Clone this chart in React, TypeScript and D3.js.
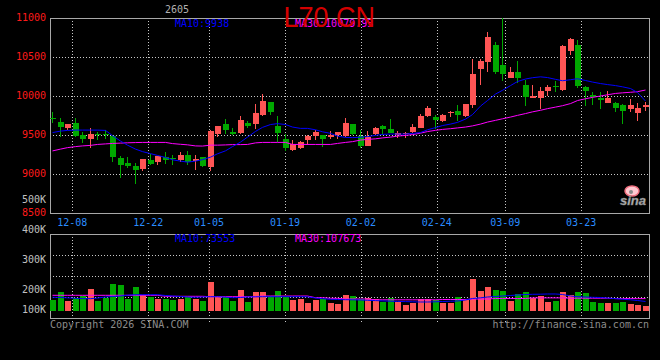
import React, { useEffect, useRef } from 'react';
import * as d3 from 'd3';

const dates = [
  '12-03', '12-04', '12-05', '12-08', '12-09', '12-10', '12-11', '12-12', '12-15', '12-16',
  '12-17', '12-18', '12-19', '12-22', '12-23', '12-24', '12-25', '12-26', '12-29', '12-30',
  '12-31', '01-05', '01-06', '01-07', '01-08', '01-09', '01-12', '01-13', '01-14', '01-15',
  '01-16', '01-19', '01-20', '01-21', '01-22', '01-23', '01-26', '01-27', '01-28', '01-29',
  '01-30', '02-02', '02-03', '02-04', '02-05', '02-06', '02-09', '02-10', '02-11', '02-12',
  '02-13', '02-24', '02-25', '02-26', '02-27', '03-02', '03-03', '03-04', '03-05', '03-06',
  '03-09', '03-10', '03-11', '03-12', '03-13', '03-16', '03-17', '03-18', '03-19', '03-20',
  '03-23', '03-24', '03-25', '03-26', '03-27', '03-30', '03-31', '04-01', '04-02', '04-03'
];

const opens = [
  9720, 9673, 9588, 9660, 9502, 9450, 9515, 9520, 9489, 9203,
  9138, 9104, 9070, 9181, 9155, 9215, 9204, 9181, 9241, 9172,
  9215, 9087, 9511, 9643, 9544, 9524, 9660, 9639, 9762, 9922,
  9617, 9450, 9313, 9339, 9434, 9489, 9506, 9480, 9498, 9493,
  9643, 9489, 9360, 9515, 9622, 9579, 9502, 9519, 9540, 9596,
  9750, 9733, 9686, 9787, 9810, 9746, 9887, 10349, 10443, 10655,
  10400, 10240, 10310, 10140, 9975, 9980, 10067, 10130, 10080, 10584,
  10657, 10114, 10016, 9980, 9913, 9917, 9887, 9836, 9788, 9861
];
const highs = [
  9800, 9724, 9650, 9716, 9544, 9592, 9540, 9566, 9500, 9232,
  9215, 9146, 9194, 9258, 9232, 9284, 9245, 9284, 9297, 9241,
  9224, 9565, 9620, 9703, 9592, 9750, 9686, 9900, 10028, 9925,
  9746, 9515, 9434, 9425, 9502, 9566, 9506, 9549, 9540, 9720,
  9650, 9566, 9557, 9600, 9630, 9703, 9553, 9540, 9650, 9772,
  9874, 9758, 9772, 9810, 9887, 9905, 10478, 10474, 10828, 10690,
  11000, 10380, 10450, 10208, 10143, 10118, 10143, 10190, 10660, 10751,
  10720, 10135, 10050, 10050, 10067, 9930, 9895, 9964, 9913, 9922
];
const lows = [
  9652, 9472, 9566, 9480, 9403, 9331, 9438, 9446, 9159, 8955,
  9074, 8880, 9045, 9113, 9120, 9130, 9120, 9159, 9113, 9053,
  9090, 9045, 9472, 9515, 9506, 9515, 9588, 9583, 9750, 9762,
  9412, 9300, 9300, 9326, 9370, 9438, 9353, 9454, 9446, 9480,
  9500, 9331, 9360, 9502, 9502, 9527, 9467, 9460, 9535, 9596,
  9733, 9579, 9672, 9737, 9686, 9730, 9852, 10144, 10315, 10285,
  10195, 10230, 10170, 9870, 9975, 9835, 10003, 10050, 10070, 10529,
  10110, 9878, 9886, 9835, 9913, 9800, 9643, 9793, 9686, 9814
];
const closes = [
  9712, 9600, 9639, 9489, 9450, 9515, 9502, 9515, 9223, 9117,
  9104, 9052, 9194, 9130, 9232, 9181, 9194, 9241, 9155, 9190,
  9104, 9557, 9617, 9566, 9519, 9694, 9617, 9780, 9934, 9801,
  9531, 9339, 9382, 9416, 9489, 9536, 9454, 9506, 9536, 9652,
  9515, 9360, 9480, 9596, 9583, 9527, 9524, 9524, 9604, 9746,
  9848, 9694, 9758, 9797, 9758, 9900, 10285, 10452, 10764, 10310,
  10285, 10310, 10235, 9985, 10003, 10067, 10116, 10125, 10640, 10734,
  10135, 10067, 9990, 9947, 9977, 9852, 9814, 9883, 9848, 9887
];

const ma10 = [
  9534, 9553, 9562, 9566, 9566, 9566, 9566, 9562, 9495, 9425,
  9373, 9322, 9290, 9264, 9241, 9215, 9185, 9168, 9155, 9168,
  9187, 9219, 9262, 9300, 9354, 9412, 9476, 9549, 9601, 9637,
  9649, 9637, 9605, 9588, 9588, 9570, 9544, 9524, 9489, 9472,
  9470, 9474, 9483, 9498, 9511, 9515, 9515, 9515, 9524, 9534,
  9570, 9598, 9624, 9643, 9665, 9707, 9765, 9874, 9945, 10028,
  10076, 10137, 10189, 10221, 10238, 10249, 10240, 10217, 10199, 10212,
  10225, 10202, 10182, 10163, 10150, 10137, 10121, 10099, 10048, 9938
];
const ma30 = [
  9299, 9322, 9341, 9354, 9363, 9370, 9382, 9389, 9395, 9399,
  9403, 9406, 9408, 9408, 9408, 9408, 9393, 9384, 9377, 9363,
  9361, 9373, 9373, 9376, 9380, 9380, 9382, 9402, 9408, 9408,
  9408, 9408, 9382, 9382, 9382, 9382, 9382, 9382, 9395, 9408,
  9418, 9438, 9447, 9454, 9466, 9476, 9489, 9498, 9508, 9527,
  9547, 9563, 9575, 9584, 9594, 9605, 9620, 9643, 9669, 9691,
  9711, 9733, 9755, 9778, 9800, 9820, 9841, 9861, 9879, 9906,
  9945, 9968, 9986, 10003, 10019, 10036, 10044, 10051, 10059, 10080
];

const volumes = [
  166700, 193300, 163300, 173300, 180000, 203300, 163300, 173300, 220000, 216700,
  170000, 210000, 183300, 176700, 170000, 170000, 166700, 170000, 176700, 170000,
  163300, 226700, 180000, 176700, 163300, 200000, 160000, 193300, 193300, 180000,
  196700, 176700, 166700, 170000, 156700, 166700, 170000, 156700, 153300, 183300,
  180000, 170000, 173300, 170000, 160000, 173300, 160000, 150000, 156700, 170000,
  170000, 166700, 156700, 156700, 176700, 170000, 236700, 196700, 210000, 200000,
  196700, 163300, 186700, 193300, 173300, 180000, 160000, 163300, 193300, 183300,
  193300, 190000, 160000, 156700, 156700, 156700, 160000, 153300, 150000, 146700
];
const volMa10 = [
  175700, 175000, 174000, 172300, 171300, 171000, 173300, 176700, 178300, 180000,
  182700, 184300, 184300, 184300, 184300, 181700, 180000, 178300, 176700, 175700,
  176700, 177700, 177700, 176000, 174300, 175000, 176700, 177300, 177700, 177700,
  177700, 177700, 177700, 177700, 177300, 173300, 171000, 169000, 168300, 167700,
  167300, 166700, 165700, 164700, 163700, 162700, 162000, 161300, 160700, 160000,
  160000, 160700, 161700, 162700, 163300, 166700, 171700, 174000, 176700, 178300,
  180000, 181700, 183300, 185000, 185700, 186000, 186700, 186700, 185000, 180000,
  177700, 176700, 175700, 175000, 173300, 171300, 169300, 167300, 165000, 161700
];
const volMa30 = [
  182300, 182300, 182300, 182300, 182300, 182300, 182300, 182300, 182300, 182300,
  182300, 182300, 182300, 182300, 182300, 179000, 179000, 179000, 179000, 179000,
  179000, 177700, 177700, 177700, 177700, 177700, 177700, 177700, 180000, 180000,
  180000, 180000, 180000, 180000, 180000, 174300, 174300, 172300, 172300, 170000,
  170000, 170000, 170000, 167300, 167300, 167300, 167300, 167300, 167300, 167300,
  167300, 167300, 168300, 168300, 168300, 168300, 170000, 170000, 170000, 171700,
  171700, 171700, 171700, 171700, 173700, 173700, 173700, 173700, 173700, 172700,
  172700, 172700, 172700, 172700, 172700, 171300, 171300, 171300, 171300, 171300
];

const priceTicks = [11000, 10500, 10000, 9500, 9000, 8500];
const volTicks = [500000, 400000, 300000, 200000, 100000];
const dateTicks = ['12-08', '12-22', '01-05', '01-19', '02-02', '02-24', '03-09', '03-23'];

const KLineChart = () => {
  const svgRef = useRef<SVGSVGElement>(null);

  useEffect(() => {
    const width = 660;
    const height = 360;
    const left = 50;
    const right = 650;
    const volTop = 234;
    const volBottom = 318;
    const volBase = 311;
    const red = '#ff5555';
    const green = '#00a800';
    const gridColor = '#c8c8c8';
    const borderColor = '#a8a8a8';
    const mono = '"DejaVu Sans Mono", monospace';

    const svg = d3.select(svgRef.current)
      .attr('width', width)
      .attr('height', height);
    svg.selectAll('*').remove();

    svg.append('rect')
      .attr('width', width)
      .attr('height', height)
      .attr('fill', '#000');

    const x = d3.scaleBand<number>()
      .domain(d3.range(dates.length))
      .range([left, right]);
    // sina puts its date grid on n-1 steps, so it drifts from the candles a bit
    const xGrid = d3.scaleLinear()
      .domain([0, dates.length - 1])
      .range([left, right]);
    const y = d3.scaleLinear()
      .domain([8500, 11000])
      .range([213.2, 18.3]);
    const yVol = d3.scaleLinear()
      .domain([0, 500000])
      .range([350, 200]);

    const px = (v: number) => Math.floor(v) + 0.5;
    const slot = (i: number) => Math.ceil(x(i) as number);

    // grid
    const grid = svg.append('g').attr('shape-rendering', 'crispEdges');
    const innerTicks = priceTicks.filter(t => t !== 11000 && t !== 8500);
    grid.selectAll('.hgrid')
      .data(innerTicks)
      .enter()
      .append('line')
      .attr('x1', left)
      .attr('x2', right - 1)
      .attr('y1', d => px(y(d)))
      .attr('y2', d => px(y(d)))
      .attr('stroke', gridColor)
      .attr('stroke-dasharray', '1,2');

    grid.selectAll('.vhgrid')
      .data(d3.range(1, 4))
      .enter()
      .append('line')
      .attr('x1', left)
      .attr('x2', right - 1)
      .attr('y1', k => px(volTop + k * (volBottom - volTop) / 4))
      .attr('y2', k => px(volTop + k * (volBottom - volTop) / 4))
      .attr('stroke', gridColor)
      .attr('stroke-dasharray', '1,2');

    const tickIdx = dateTicks.map(d => dates.indexOf(d));
    grid.selectAll('.vgrid')
      .data(tickIdx)
      .enter()
      .append('line')
      .attr('x1', i => px(xGrid(i)))
      .attr('x2', i => px(xGrid(i)))
      .attr('y1', 18)
      .attr('y2', 213)
      .attr('stroke', gridColor)
      .attr('stroke-dasharray', '1,2');
    grid.selectAll('.vgrid2')
      .data(tickIdx)
      .enter()
      .append('line')
      .attr('x1', i => px(xGrid(i)))
      .attr('x2', i => px(xGrid(i)))
      .attr('y1', volTop)
      .attr('y2', volBottom + 4)
      .attr('stroke', gridColor)
      .attr('stroke-dasharray', '1,2');

    // panel borders
    grid.append('rect')
      .attr('x', left + 0.5)
      .attr('y', 18.5)
      .attr('width', right - left - 1)
      .attr('height', 195)
      .attr('fill', 'none')
      .attr('stroke', borderColor);
    grid.append('rect')
      .attr('x', left + 0.5)
      .attr('y', volTop + 0.5)
      .attr('width', right - left - 1)
      .attr('height', volBottom - volTop)
      .attr('fill', 'none')
      .attr('stroke', borderColor);

    // candles
    const candles = svg.append('g').attr('shape-rendering', 'crispEdges');
    const idx = d3.range(dates.length);
    const colorOf = (i: number) => (closes[i] >= opens[i] ? red : green);

    candles.selectAll('.wick')
      .data(idx)
      .enter()
      .append('rect')
      .attr('x', i => slot(i) + 2)
      .attr('width', 1)
      .attr('y', i => Math.round(y(highs[i])))
      .attr('height', i => Math.max(1, Math.round(y(lows[i])) - Math.round(y(highs[i]))))
      .attr('fill', colorOf);

    candles.selectAll('.body')
      .data(idx)
      .enter()
      .append('rect')
      .attr('x', i => slot(i))
      .attr('width', 6)
      .attr('y', i => Math.round(y(Math.max(opens[i], closes[i]))))
      .attr('height', i => Math.max(1,
        Math.round(y(Math.min(opens[i], closes[i]))) - Math.round(y(Math.max(opens[i], closes[i])))))
      .attr('fill', colorOf);

    const priceLine = d3.line<number>()
      .x((d, i) => slot(i) + 2.5)
      .y(d => y(d));

    svg.append('path')
      .attr('d', priceLine(ma30))
      .attr('fill', 'none')
      .attr('stroke', '#ff00ff')
      .attr('stroke-width', 1);
    svg.append('path')
      .attr('d', priceLine(ma10))
      .attr('fill', 'none')
      .attr('stroke', '#0000ff')
      .attr('stroke-width', 1);

    // volume
    candles.selectAll('.vol')
      .data(idx)
      .enter()
      .append('rect')
      .attr('x', i => slot(i))
      .attr('width', 6)
      .attr('y', i => Math.round(yVol(volumes[i])))
      .attr('height', i => volBase - Math.round(yVol(volumes[i])))
      .attr('fill', colorOf);

    const volLine = d3.line<number>()
      .x((d, i) => slot(i) + 2.5)
      .y(d => yVol(d));

    svg.append('path')
      .attr('d', volLine(volMa30))
      .attr('fill', 'none')
      .attr('stroke', '#ff00ff')
      .attr('stroke-width', 1);
    svg.append('path')
      .attr('d', volLine(volMa10))
      .attr('fill', 'none')
      .attr('stroke', '#0000ff')
      .attr('stroke-width', 1);

    // axis labels
    const labels = svg.append('g')
      .style('font-family', mono)
      .style('font-size', '10px');

    labels.selectAll('.ptick')
      .data(priceTicks)
      .enter()
      .append('text')
      .attr('x', 46)
      .attr('y', d => y(d) + 2.5)
      .attr('text-anchor', 'end')
      .attr('fill', '#ff1a1a')
      .text(d => d);

    labels.selectAll('.vtick')
      .data(volTicks)
      .enter()
      .append('text')
      .attr('x', 46)
      .attr('y', d => Math.min(yVol(d) + 3.3, 313.3))
      .attr('text-anchor', 'end')
      .attr('fill', '#c0c0c0')
      .text(d => `${d / 1000}K`);

    labels.selectAll('.dtick')
      .data(tickIdx)
      .enter()
      .append('text')
      .attr('x', i => xGrid(i) - 0.5)
      .attr('y', 225.5)
      .attr('text-anchor', 'middle')
      .attr('fill', '#2a8cff')
      .text(i => dates[i]);

    labels.append('text')
      .attr('x', 175).attr('y', 26.7)
      .attr('fill', '#0000ff')
      .text(`MA10:${ma10[ma10.length - 1]}`);
    labels.append('text')
      .attr('x', 295).attr('y', 26.7)
      .attr('fill', '#ff00ff')
      .text('MA30:10079.93');
    labels.append('text')
      .attr('x', 175).attr('y', 241.7)
      .attr('fill', '#0000ff')
      .text('MA10:73553');
    labels.append('text')
      .attr('x', 295).attr('y', 241.7)
      .attr('fill', '#ff00ff')
      .text('MA30:107673');
    labels.append('text')
      .attr('x', 165).attr('y', 12.7)
      .attr('fill', '#b0b0b0')
      .text('2605');
    labels.append('text')
      .attr('x', 50).attr('y', 327.5)
      .attr('fill', '#8c8c8c')
      .text('Copyright 2026 SINA.COM');
    labels.append('text')
      .attr('x', 649).attr('y', 327.5)
      .attr('text-anchor', 'end')
      .attr('fill', '#8c8c8c')
      .text('http://finance.sina.com.cn');

    // title
    svg.append('text')
      .attr('x', 283.5)
      .attr('y', 26.5)
      .attr('fill', '#d40000')
      .attr('textLength', 91.5)
      .attr('lengthAdjust', 'spacingAndGlyphs')
      .style('font-family', '"Liberation Sans", Arial, sans-serif')
      .style('font-size', '29px')
      .text('L70 CN');

    // sina logo, bottom right
    const logo = svg.append('g');
    logo.append('ellipse')
      .attr('cx', 632).attr('cy', 191)
      .attr('rx', 7).attr('ry', 5)
      .attr('fill', '#ffc8d0')
      .attr('stroke', '#f07080')
      .attr('stroke-width', 1.5);
    logo.append('circle')
      .attr('cx', 631).attr('cy', 192)
      .attr('r', 2)
      .attr('fill', '#888');
    logo.append('text')
      .attr('x', 620).attr('y', 205)
      .attr('fill', '#b8b8b8')
      .attr('stroke', '#777')
      .attr('stroke-width', 0.5)
      .style('font-family', '"Liberation Sans", Arial, sans-serif')
      .style('font-size', '13px')
      .style('font-style', 'italic')
      .style('font-weight', 'bold')
      .text('sina');
  }, []);

  return (
    <div style={{ position: 'fixed', left: 0, top: 0, width: 660, height: 360, background: '#000' }}>
      <svg ref={svgRef} style={{ display: 'block' }}></svg>
    </div>
  );
};

export default function App() {
  return <KLineChart />;
}
